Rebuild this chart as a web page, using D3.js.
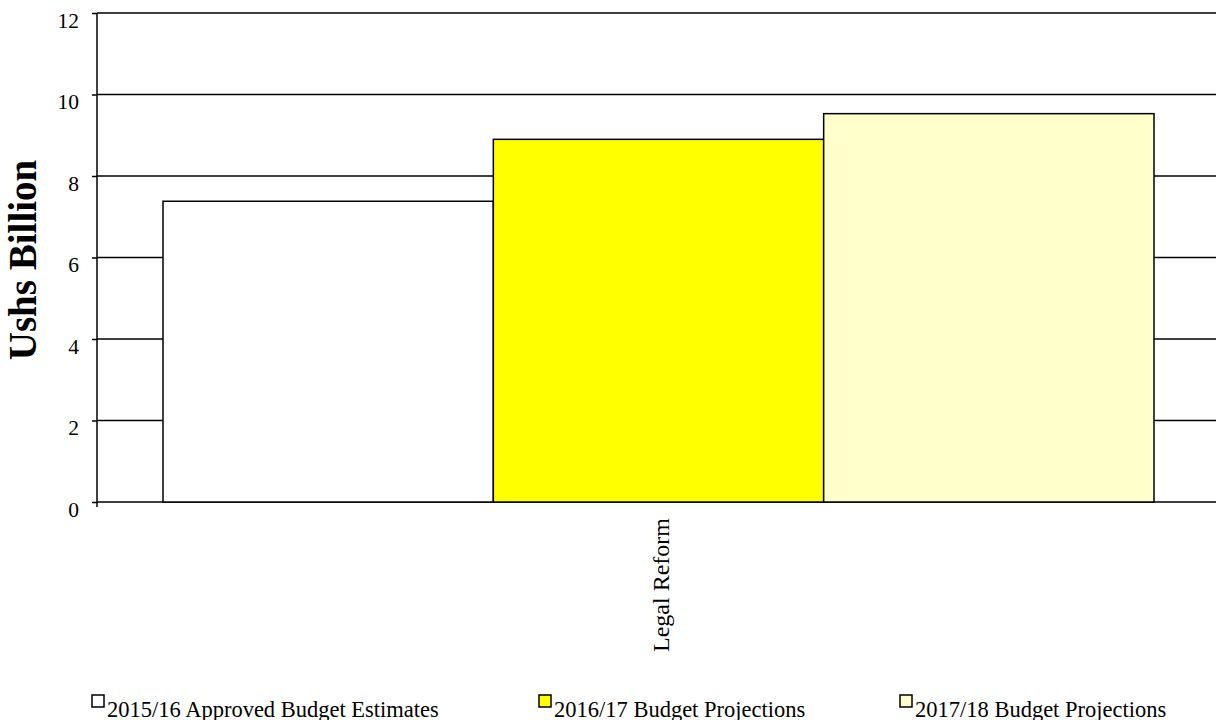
<!DOCTYPE html>
<html><head><meta charset="utf-8">
<script src="https://cdn.jsdelivr.net/npm/d3@7"></script>
<style>body{margin:0;background:#fff}svg{display:block}text{font-family:"Liberation Serif","Times New Roman",serif;fill:#000}</style>
</head><body>
<svg id="c" width="1216" height="720"></svg>
<script>
const categories = ["Legal Reform"];
const seriesNames = ["2015/16 Approved Budget Estimates","2016/17 Budget Projections","2017/18 Budget Projections"];
const seriesColors = ["#ffffff","#ffff00","#ffffcc"];
const values2015 = [7.38];
const values2016 = [8.90];
const values2017 = [9.53];
const yTicks = [0,2,4,6,8,10,12];

const series = [values2015, values2016, values2017];
const svg = d3.select("#c");
const m = {l:97, t:13, r:-4, b:218};
const W = 1216, H = 720;
const x0 = d3.scaleBand().domain(categories).range([m.l, W - m.r]).paddingInner(0).paddingOuter(0.0666);
const x1 = d3.scaleBand().domain(seriesNames).range([0, x0.bandwidth()]);
const y = d3.scaleLinear().domain([0,12]).range([H - m.b, m.t]);

// gridlines
svg.append("g").selectAll("line").data(yTicks).join("line")
  .attr("x1", m.l).attr("x2", W - m.r).attr("y1", d=>y(d)).attr("y2", d=>y(d))
  .attr("stroke","#000").attr("stroke-width",1.5);

// bars
categories.forEach((c, ci) => {
  svg.append("g").selectAll("rect").data(seriesNames).join("rect")
    .attr("x", s => x0(c) + x1(s))
    .attr("width", x1.bandwidth())
    .attr("y", (s,i) => y(series[i][ci]))
    .attr("height", (s,i) => y(0) - y(series[i][ci]))
    .attr("fill", (s,i) => seriesColors[i])
    .attr("stroke","#000").attr("stroke-width",1.5);
});

// y axis
const ya = svg.append("g").attr("transform",`translate(${m.l},0)`)
  .call(d3.axisLeft(y).tickValues(yTicks).tickSize(5).tickPadding(13).tickFormat(d3.format("d")));
ya.select(".domain").attr("stroke","#000").attr("stroke-width",1.5).attr("d",`M0,${y(12)}V${y(0)}`);
ya.selectAll(".tick line").attr("stroke","#000").attr("stroke-width",1.5);
ya.selectAll(".tick text").attr("font-size",21.5).attr("font-family","Liberation Serif").attr("dy","0.66em");
// small tick below origin
svg.append("line").attr("x1",m.l).attr("x2",m.l).attr("y1",y(0)).attr("y2",y(0)+5).attr("stroke","#000").attr("stroke-width",1.5);

// x category labels
svg.append("g").selectAll("text").data(categories).join("text")
  .attr("transform", d => `translate(${x0(d)+x0.bandwidth()/2+10},${y(0)+16}) rotate(-90)`)
  .attr("text-anchor","end").attr("font-size",24).text(d=>d);

// y title
svg.append("text").attr("transform",`translate(36,260) rotate(-90)`)
  .attr("text-anchor","middle").attr("font-size",39).attr("font-weight","bold").text("Ushs Billion");

// legend
const legX = [92, 539, 900];
const lg = svg.append("g").selectAll("g").data(seriesNames).join("g")
  .attr("transform",(d,i)=>`translate(${legX[i]},695)`);
lg.append("rect").attr("width",12).attr("height",12)
  .attr("fill",(d,i)=>seriesColors[i]).attr("stroke","#000").attr("stroke-width",1.5);
lg.append("text").attr("x",15).attr("y",21.5).attr("font-size",22.5).text(d=>d);
</script>
</body></html>
